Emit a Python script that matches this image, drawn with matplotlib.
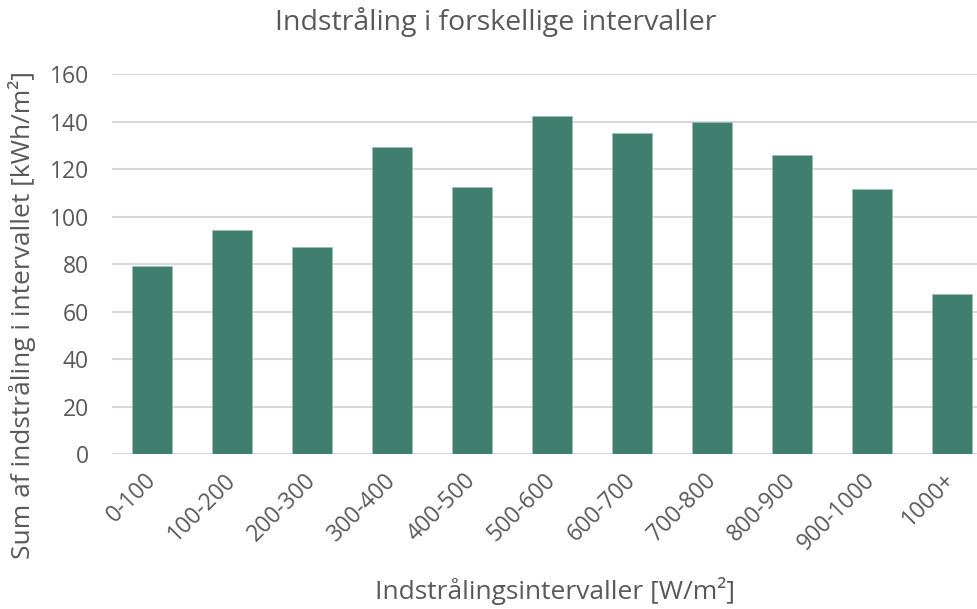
import matplotlib
matplotlib.use("Agg")
import matplotlib.pyplot as plt

categories = ["0-100", "100-200", "200-300", "300-400", "400-500", "500-600",
              "600-700", "700-800", "800-900", "900-1000", "1000+"]
values = [79.3, 94.2, 87.3, 129.1, 112.3, 142.4, 135.0, 139.8, 126.0, 111.7, 67.3]
yticks = [0, 20, 40, 60, 80, 100, 120, 140, 160]

plt.rcParams['font.family'] = ['Open Sans', 'DejaVu Sans']
txt = '#595959'

fig = plt.figure(figsize=(9.78, 6.09), dpi=100)
ax = fig.add_axes([0.115, 0.2537, 1.014 - 0.115, 0.8785 - 0.2537])

x = list(range(len(categories)))
ax.bar(x, values, width=0.5, color='#407E6F', edgecolor='#9cc0b6', linewidth=0.6, zorder=3)

ax.set_xlim(-0.5, len(categories) - 0.5)
ax.set_ylim(0, 160)
ax.set_yticks(yticks)
ax.set_xticks(x)
ax.set_xticklabels(categories, rotation=45, ha='right', va='center', rotation_mode='anchor')
ax.yaxis.grid(True, color='#d9d9d9', linewidth=1.5, zorder=0)
ax.set_axisbelow(True)
for s in ax.spines.values():
    s.set_visible(False)
ax.tick_params(axis='both', length=0, labelsize=16.5, colors=txt)
ax.tick_params(axis='x', pad=16)
ax.tick_params(axis='y', pad=17)

fig.text(0.567, 0.0296, "Indstrålingsintervaller [W/m²]", ha='center', va='center',
         fontsize=19, color=txt)
fig.text(0.0225, 0.482, "Sum af indstråling i intervallet [kWh/m²]", ha='center', va='center',
         rotation=90, fontsize=19, color=txt)
fig.text(0.507, 0.964, "Indstråling i forskellige intervaller", ha='center', va='center',
         fontsize=20.5, color=txt)

fig.savefig("out.png", dpi=100)
